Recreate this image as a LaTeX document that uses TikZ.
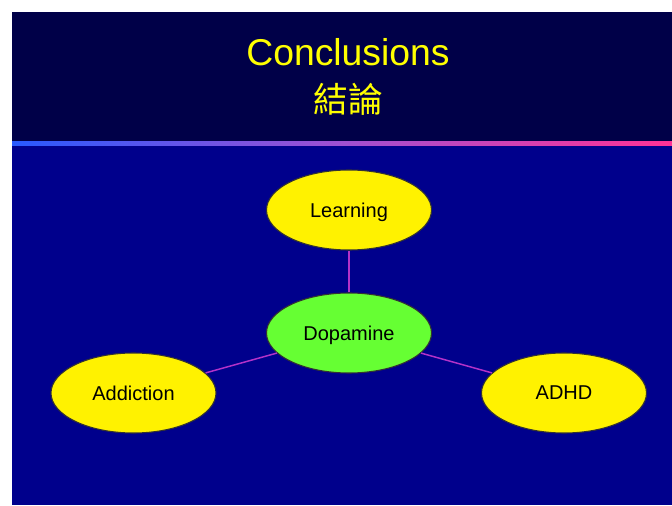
\documentclass[tikz,border=0pt]{standalone}
\usepackage{fontspec}
\setmainfont{Liberation Sans}
\newfontfamily\cjk{Noto Sans CJK TC}
\usetikzlibrary{shapes.geometric}
\definecolor{hdrbg}{RGB}{0,0,72}
\definecolor{mainbg}{RGB}{0,0,140}
\definecolor{lineL}{RGB}{40,90,255}
\definecolor{lineM}{RGB}{160,80,210}
\definecolor{lineR}{RGB}{255,50,150}
\definecolor{conncol}{RGB}{180,50,200}
\definecolor{titleyel}{RGB}{255,255,0}
\definecolor{dopgreen}{RGB}{102,255,51}
\tikzset{
  bubble/.style={ellipse, draw=black!80, line width=0.8pt, minimum width=123.75pt, minimum height=60pt, inner sep=0pt, text depth=0pt, font=\fontsize{15}{18}\selectfont, text=black},
  conn/.style={draw=conncol, line width=1.1pt},
}
\begin{document}
\begin{tikzpicture}[x=0.75pt,y=-0.75pt]
\useasboundingbox (0,0) rectangle (672,506);
\fill[white] (0,0) rectangle (672,506);
\fill[mainbg] (12,143) rectangle (672,505);
\fill[hdrbg] (12,12) rectangle (672,143);
\shade[left color=lineL, right color=lineR, middle color=lineM] (12,141.5) rectangle (672,145.5);
\node[text=titleyel, font=\fontsize{28}{32}\selectfont] (title) at (348,52) {Conclusions};
\node[text=titleyel, font=\cjk\fontsize{26}{30}\selectfont] (titlezh) at (348,99) {結論};
\node[bubble, fill=yellow] (learn) at (349,210) {Learning};
\node[bubble, fill=dopgreen] (dop) at (349,333) {Dopamine};
\node[bubble, fill=yellow] (addict) at (133.5,393) {Addiction};
\node[bubble, fill=yellow] (adhd) at (564,393) {ADHD};
\draw[conn] (dop) -- (learn);
\draw[conn] (dop) -- (addict);
\draw[conn] (dop) -- (adhd);
\end{tikzpicture}
\end{document}
